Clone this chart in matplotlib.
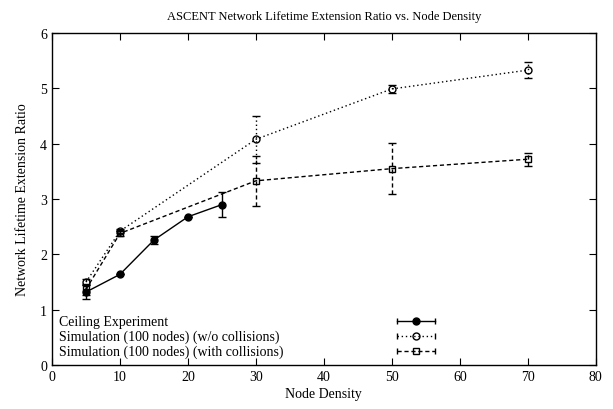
import matplotlib
matplotlib.use("Agg")
import matplotlib.pyplot as plt

plt.rcParams['font.family'] = ['Liberation Serif', 'DejaVu Serif']

# data
ceil_x = [5, 10, 15, 20, 25]
ceil_y = [1.32, 1.64, 2.26, 2.68, 2.90]
ceil_err = [0.12, 0.0, 0.07, 0.0, 0.22]

nocol_x = [5, 10, 30, 50, 70]
nocol_y = [1.50, 2.42, 4.08, 4.99, 5.33]
nocol_err = [0.05, 0.04, 0.42, 0.08, 0.15]

col_x = [5, 10, 30, 50, 70]
col_y = [1.37, 2.38, 3.33, 3.55, 3.72]
col_err = [0.10, 0.04, 0.45, 0.46, 0.12]

labels = ["Ceiling Experiment",
          "Simulation (100 nodes) (w/o collisions)",
          "Simulation (100 nodes) (with collisions)"]

fig = plt.figure(figsize=(6.13, 4.10), dpi=100)
ax = fig.add_axes([0.0848, 0.107, 0.887, 0.810])

styles = [
    dict(ls='-', marker='o', mfc='black', dashes=None),
    dict(ls=':', marker='o', mfc='none', dashes=(1, 2)),
    dict(ls='--', marker='s', mfc='none', dashes=(3, 2)),
]
series = [(ceil_x, ceil_y, ceil_err), (nocol_x, nocol_y, nocol_err), (col_x, col_y, col_err)]

for (x, y, e), st in zip(series, styles):
    ln, caps, bars = ax.errorbar(x, y, yerr=e, color='black', lw=1.0, ls=st['ls'],
                                 marker=st['marker'], ms=5, mfc=st['mfc'], mec='black',
                                 mew=1.0, capsize=3, elinewidth=1.0, capthick=1.0)
    if st['dashes'] is not None:
        ln.set_dashes(st['dashes'])
        for b in bars:
            b.set_linestyle((0, st['dashes']))

# gnuplot style key: text on the left, sample with end caps on the right
for i, (lab, st) in enumerate(zip(labels, styles)):
    yk = 0.1325 - i * 0.045
    ax.text(0.012, yk, lab, transform=ax.transAxes, fontsize=10, va='center', ha='left')
    x0, x1 = 0.634, 0.704
    kw = dict(color='black', lw=1.0, transform=ax.transAxes, clip_on=False)
    sample, = ax.plot([x0, x1], [yk, yk], ls=st['ls'], **kw)
    if st['dashes'] is not None:
        sample.set_dashes(st['dashes'])
    ax.plot([(x0 + x1) / 2], [yk], marker=st['marker'], ms=5, mfc=st['mfc'],
            mec='black', ls='none', transform=ax.transAxes)
    for xe in (x0, x1):
        ax.plot([xe], [yk], marker='|', ms=5, color='black', ls='none',
                transform=ax.transAxes)

ax.set_xlim(0, 80)
ax.set_ylim(0, 6)
ax.set_xticks(range(0, 81, 10))
ax.set_yticks(range(0, 7))
ax.tick_params(direction='in', top=True, right=True, labelsize=10, length=5, width=0.8)
for s in ax.spines.values():
    s.set_linewidth(1.0)

ax.set_title("ASCENT Network Lifetime Extension Ratio vs. Node Density", fontsize=9, pad=10)
ax.set_xlabel("Node Density", fontsize=10, labelpad=3)
ax.set_ylabel("Network Lifetime Extension Ratio", fontsize=10, labelpad=8)

fig.savefig("out.png", dpi=100)
